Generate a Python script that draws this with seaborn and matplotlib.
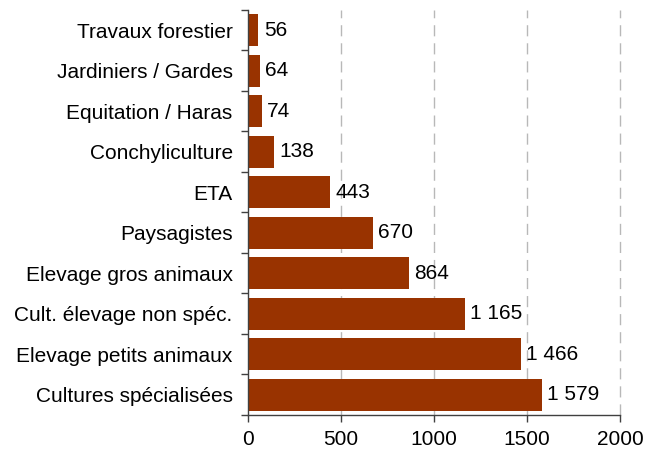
import numpy as np
import pandas as pd
import matplotlib
matplotlib.use('Agg')
import matplotlib.pyplot as plt
import seaborn as sns

categories = ['Travaux forestier', 'Jardiniers / Gardes', 'Equitation / Haras',
              'Conchyliculture', 'ETA', 'Paysagistes', 'Elevage gros animaux',
              'Cult. élevage non spéc.', 'Elevage petits animaux',
              'Cultures spécialisées']
values = [56, 64, 74, 138, 443, 670, 864, 1165, 1466, 1579]
x_ticks = [0, 500, 1000, 1500, 2000]

df = pd.DataFrame({'cat': categories, 'val': values})

sns.set_style('white')
plt.rcParams['font.family'] = ['Liberation Sans', 'DejaVu Sans']
plt.rcParams['text.color'] = 'black'
plt.rcParams['xtick.color'] = 'black'
plt.rcParams['ytick.color'] = 'black'

fig = plt.figure(figsize=(6.45, 4.54), dpi=100)
ax = fig.add_axes([0.3845, 0.086, 0.5767, 0.892])

sns.barplot(data=df, x='val', y='cat', orient='h', color='#993300',
            saturation=1, width=0.79, linewidth=0, ax=ax)

ax.set_xlim(0, 2000)
ax.set_ylim(len(categories) - 0.5, -0.5)
ax.set_xticks(x_ticks)
ax.set_xticklabels([str(t) for t in x_ticks], fontsize=15)
ax.set_xlabel('')
ax.set_ylabel('')
ax.tick_params(axis='y', which='major', left=False, length=0, labelsize=15, pad=11)
ax.set_yticks(np.arange(len(categories) + 1) - 0.5, minor=True)
ax.tick_params(axis='y', which='minor', left=True, length=5, width=1, color='#404040')
ax.tick_params(axis='x', bottom=True, length=5, width=1, color='#404040',
               labelsize=15, pad=6)

for x in x_ticks[1:]:
    ax.axvline(x, color='#b8b8b8', lw=1, ls=(0, (8, 5)), zorder=0, clip_on=False)

for sp in ['top', 'right']:
    ax.spines[sp].set_visible(False)
for sp in ['left', 'bottom']:
    ax.spines[sp].set_color('#404040')
    ax.spines[sp].set_linewidth(1)

for i, v in enumerate(values):
    lab = f'{v:,}'.replace(',', ' ')
    ax.text(v + 30, i, lab, va='center', ha='left', fontsize=15, color='black')

fig.savefig('out.png', dpi=100)
